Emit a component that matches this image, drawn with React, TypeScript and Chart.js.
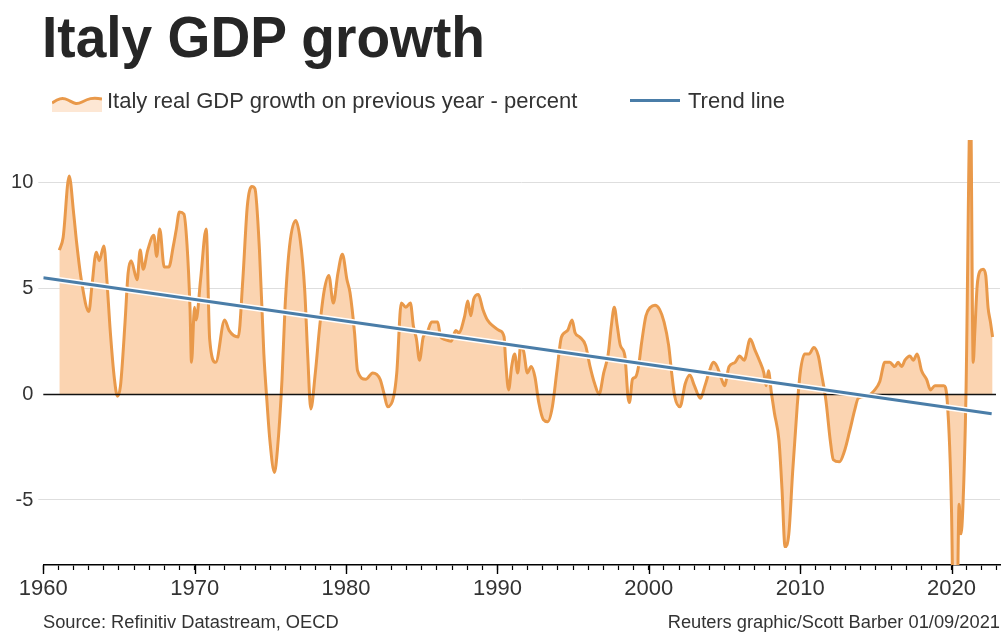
import React, { useEffect, useRef } from "react";
import { Chart, registerables } from "chart.js";

Chart.register(...registerables);

// ---- Data ----
const growthYears = [
  1961.06, 1961.31, 1961.71, 1962.01, 1962.21, 1962.51, 1963.01, 1963.21, 1963.5, 1963.7,
  1964.0, 1964.2, 1964.4, 1964.7, 1964.9, 1965.1, 1965.4, 1965.6, 1965.8, 1966.2,
  1966.4, 1966.6, 1966.9, 1967.3, 1967.49, 1967.69, 1967.99, 1968.29, 1968.59, 1968.79,
  1968.99, 1969.29, 1969.49, 1969.69, 1969.79, 1969.99, 1970.09, 1970.39, 1970.76, 1970.99,
  1971.39, 1971.98, 1972.28, 1972.88, 1973.18, 1973.48, 1973.78, 1973.98, 1974.28, 1974.57,
  1974.77, 1974.97, 1975.27, 1975.47, 1975.77, 1975.97, 1976.27, 1976.67, 1976.97, 1977.27,
  1977.47, 1977.67, 1977.97, 1978.26, 1978.56, 1978.86, 1979.16, 1979.46, 1979.76, 1980.06,
  1980.26, 1980.56, 1980.76, 1981.3, 1981.76, 1982.25, 1982.5, 1982.75, 1983.15, 1983.35,
  1983.65, 1983.95, 1984.25, 1984.45, 1984.65, 1984.85, 1985.1, 1985.35, 1985.65, 1986.05,
  1986.25, 1986.45, 1986.95, 1987.25, 1987.45, 1987.84, 1988.04, 1988.24, 1988.44, 1988.74,
  1989.04, 1989.34, 1989.74, 1990.14, 1990.44, 1990.54, 1990.74, 1990.94, 1991.14, 1991.34,
  1991.54, 1991.74, 1991.98, 1992.23, 1992.48, 1992.73, 1993.03, 1993.33, 1993.63, 1993.93,
  1994.23, 1994.63, 1994.93, 1995.13, 1995.43, 1995.82, 1996.12, 1996.42, 1996.72, 1997.02,
  1997.32, 1997.52, 1997.72, 1997.92, 1998.12, 1998.42, 1998.62, 1998.72, 1998.92, 1999.12,
  1999.32, 1999.52, 1999.81, 2000.11, 2000.41, 2000.71, 2001.01, 2001.31, 2001.51, 2001.71,
  2002.06, 2002.41, 2002.71, 2003.01, 2003.41, 2003.71, 2004.01, 2004.26, 2004.51, 2004.81,
  2005.0, 2005.3, 2005.7, 2006.0, 2006.3, 2006.7, 2007.0, 2007.3, 2007.6, 2007.75,
  2007.9, 2008.1, 2008.3, 2008.6, 2008.8, 2009.0, 2009.25, 2009.5, 2009.8, 2010.0,
  2010.3, 2010.6, 2010.9, 2011.2, 2011.4, 2011.7, 2011.99, 2012.19, 2012.59, 2012.92,
  2013.25, 2013.62, 2013.83, 2014.39, 2014.93, 2015.26, 2015.59, 2015.92, 2016.25, 2016.47,
  2016.7, 2016.92, 2017.25, 2017.47, 2017.73, 2018.02, 2018.35, 2018.61, 2018.9, 2019.23,
  2019.49, 2019.71, 2020.0, 2020.25, 2020.5, 2020.62, 2020.75, 2020.95, 2021.25, 2021.43,
  2021.54, 2021.69, 2021.87, 2022.09, 2022.26, 2022.41, 2022.57, 2022.71,
];

const growthValues = [
  6.8, 7.4, 10.3, 8.5, 7.1, 5.4, 3.9, 5.1, 6.7, 6.3,
  7.0, 5.4, 3.2, 0.7, -0.1, 0.4, 3.4, 5.7, 6.3, 5.4,
  6.8, 5.9, 6.8, 7.5, 6.5, 7.8, 6.0, 6.0, 7.0, 7.8,
  8.6, 8.5, 7.1, 4.1, 1.5, 4.1, 3.5, 5.4, 7.8, 2.6,
  1.5, 3.5, 3.0, 2.7, 5.4, 8.9, 9.8, 9.7, 6.8, 1.9,
  -0.3, -2.2, -3.7, -2.6, 0.7, 4.1, 7.0, 8.2, 7.3, 4.9,
  1.8, -0.7, 1.0, 3.2, 4.9, 5.6, 4.3, 5.7, 6.6, 5.4,
  4.8, 2.9, 1.1, 0.7, 1.0, 0.7, 0.05, -0.6, -0.1, 1.0,
  4.3, 4.1, 4.3, 3.2, 2.6, 1.6, 2.7, 2.9, 3.4, 3.4,
  2.7, 2.6, 2.5, 3.0, 2.9, 3.7, 4.4, 3.7, 4.5, 4.7,
  4.0, 3.5, 3.2, 3.0, 2.7, 1.6, 0.2, 1.3, 1.9, 1.0,
  2.3, 2.0, 1.0, 1.3, 0.8, -0.4, -1.2, -1.3, -0.6, 1.1,
  2.7, 3.0, 3.5, 2.9, 2.7, 2.3, 1.3, 0.5, 0.0, 1.0,
  1.9, 3.2, 4.1, 3.2, 2.3, 1.8, -0.1, -0.4, 0.7, 0.8,
  1.3, 2.4, 3.7, 4.1, 4.2, 4.0, 3.4, 2.3, 1.0, -0.1,
  -0.6, 0.5, 0.9, 0.4, -0.2, 0.4, 1.1, 1.5, 1.3, 0.7,
  0.4, 1.3, 1.5, 1.8, 1.6, 2.6, 2.1, 1.6, 1.0, 0.4,
  1.1, 0.05, -0.9, -2.2, -4.5, -7.2, -6.6, -3.7, -0.6, 1.0,
  1.9, 1.9, 2.2, 1.8, 1.0, -0.3, -2.2, -3.1, -3.2, -2.7,
  -1.8, -0.7, -0.2, -0.1, 0.2, 0.6, 1.5, 1.5, 1.3, 1.5,
  1.3, 1.6, 1.8, 1.6, 1.9, 1.1, 0.7, 0.2, 0.4, 0.4,
  0.4, -0.3, -5.6, -18.0, -5.2, -6.6, -5.3, -0.1, 14.0, 1.5,
  3.0, 5.1, 5.8, 5.9, 5.6, 4.1, 3.4, 2.7,
];

const trendYears = [1960, 2022.65];
const trendValues = [5.5, -0.93];

const yTickValues = [-5, 0, 5, 10];
const decadeLabels = ["1960", "1970", "1980", "1990", "2000", "2010", "2020"];
const firstYear = 1960;
const lastYear = 2023;

const TITLE = "Italy GDP growth";
const SERIES_LABEL = "Italy real GDP growth on previous year - percent";
const TREND_LABEL = "Trend line";
const SOURCE_TEXT = "Source: Refinitiv Datastream, OECD";
const CREDIT_TEXT = "Reuters graphic/Scott Barber 01/09/2021";

// ---- Styles ----
const ORANGE = "#E9994A";
const ORANGE_FILL = "#FBD4B1";
const BLUE = "#4A7DA8";
const TEXT = "#333333";
const SANS = "'Liberation Sans', Arial, Helvetica, sans-serif";

const axisExtras = {
  id: "axisExtras",
  afterDatasetDraw(chart: any, args: any) {
    if (args.index !== 0) return;
    const { ctx, chartArea, scales } = chart;
    const y0 = Math.round(scales.y.getPixelForValue(0)) + 0.5;
    ctx.save();
    ctx.strokeStyle = "#111111";
    ctx.lineWidth = 1.3;
    ctx.beginPath();
    ctx.moveTo(chartArea.left, y0);
    ctx.lineTo(chartArea.right - 4, y0);
    ctx.stroke();
    ctx.restore();
  },
  afterDraw(chart: any) {
    const { ctx, chartArea, scales } = chart;
    ctx.save();
    ctx.strokeStyle = "#000000";
    ctx.lineWidth = 1.4;
    decadeLabels.forEach((lab) => {
      const x = Math.round(scales.x.getPixelForValue(Number(lab))) + 0.5;
      ctx.beginPath();
      ctx.moveTo(x, chartArea.bottom);
      ctx.lineTo(x, chartArea.bottom + 9);
      ctx.stroke();
    });
    ctx.restore();
  },
};

function GdpChart() {
  const ref = useRef<HTMLCanvasElement | null>(null);

  useEffect(() => {
    if (!ref.current) return;
    const growthPoints = growthYears.map((x, i) => ({ x, y: growthValues[i] }));
    const trendPoints = trendYears.map((x, i) => ({ x, y: trendValues[i] }));

    const chart = new Chart(ref.current, {
      type: "line",
      data: {
        datasets: [
          {
            label: SERIES_LABEL,
            data: growthPoints,
            borderColor: ORANGE,
            backgroundColor: ORANGE_FILL,
            borderWidth: 3,
            fill: "origin",
            pointRadius: 0,
            cubicInterpolationMode: "monotone",
            order: 3,
          },
          {
            label: "halo",
            data: trendPoints,
            borderColor: "#ffffff",
            borderWidth: 6,
            fill: false,
            pointRadius: 0,
            order: 2,
          },
          {
            label: TREND_LABEL,
            data: trendPoints,
            borderColor: BLUE,
            borderWidth: 3,
            fill: false,
            pointRadius: 0,
            order: 1,
          },
        ],
      } as any,
      options: {
        responsive: false,
        animation: false,
        events: [],
        layout: { padding: { top: 140, right: 7, left: 0, bottom: 0 } },
        plugins: {
          legend: { display: false },
          tooltip: { enabled: false },
          title: { display: false },
        },
        scales: {
          x: {
            type: "linear",
            min: firstYear,
            max: 2023.2,
            afterBuildTicks: (scale: any) => {
              const t = [];
              for (let v = firstYear; v <= lastYear; v++) t.push({ value: v });
              scale.ticks = t;
            },
            afterFit: (scale: any) => {
              scale.height = 71;
            },
            ticks: {
              autoSkip: false,
              maxRotation: 0,
              minRotation: 0,
              padding: 6,
              color: TEXT,
              font: { family: SANS, size: 22 },
              callback: (v: any) => {
                const s = String(v);
                return decadeLabels.includes(s) ? s : "";
              },
            },
            grid: {
              drawOnChartArea: false,
              drawTicks: true,
              tickLength: 5,
              tickColor: "#000000",
              tickWidth: 1.2,
            },
            border: { display: true, color: "#000000", width: 1.6 },
          },
          y: {
            min: -8.07,
            max: 12,
            afterBuildTicks: (scale: any) => {
              scale.ticks = yTickValues.map((value) => ({ value }));
            },
            afterFit: (scale: any) => {
              scale.width = 43.3;
            },
            ticks: {
              padding: 5,
              color: TEXT,
              font: { family: SANS, size: 20 },
              callback: (v: any) => String(v),
            },
            grid: {
              color: (ctx: any) =>
                ctx.tick && ctx.tick.value === 0 ? "rgba(0,0,0,0)" : "#dedede",
              lineWidth: 1,
              tickLength: 5,
              drawTicks: true,
            },
            border: { display: false },
          },
        },
      } as any,
      plugins: [axisExtras],
    });
    return () => chart.destroy();
  }, []);

  return (
    <canvas
      ref={ref}
      width={1007}
      height={636}
      style={{ position: "absolute", left: 0, top: 0, width: 1007, height: 636, display: "block" }}
    />
  );
}

export default function App() {
  const textBase: React.CSSProperties = {
    position: "absolute",
    whiteSpace: "nowrap",
    color: TEXT,
    fontFamily: SANS,
  };
  return (
    <div
      style={{
        position: "fixed",
        left: 0,
        top: 0,
        width: 1007,
        height: 636,
        background: "#ffffff",
        overflow: "hidden",
      }}
    >
      <GdpChart />
      <div
        style={{
          ...textBase,
          left: 42,
          top: 8,
          fontSize: 58,
          lineHeight: "58px",
          fontWeight: "bold",
          color: "#262626",
          transform: "scaleX(0.95)",
          transformOrigin: "left top",
        }}
      >
        {TITLE}
      </div>
      <svg
        width={50}
        height={22}
        style={{ position: "absolute", left: 52, top: 90 }}
        viewBox="0 0 50 22"
      >
        <path
          d="M0,13 C6,9 10,7 16,10 S24,15 30,12 S40,7 50,9 L50,22 L0,22 Z"
          fill="#FDE7D4"
          stroke="none"
        />
        <path
          d="M0,13 C6,9 10,7 16,10 S24,15 30,12 S40,7 50,9"
          fill="none"
          stroke={ORANGE}
          strokeWidth={3}
        />
      </svg>
      <div style={{ ...textBase, left: 107, top: 88, fontSize: 22, lineHeight: "26px" }}>
        {SERIES_LABEL}
      </div>
      <div
        style={{
          position: "absolute",
          left: 630,
          top: 99,
          width: 50,
          height: 3,
          background: BLUE,
        }}
      />
      <div style={{ ...textBase, left: 688, top: 88, fontSize: 22, lineHeight: "26px" }}>
        {TREND_LABEL}
      </div>
      <div style={{ ...textBase, left: 43, top: 611, fontSize: 18.3, lineHeight: "22px" }}>
        {SOURCE_TEXT}
      </div>
      <div
        style={{
          ...textBase,
          right: 7,
          top: 611,
          fontSize: 18.3,
          lineHeight: "22px",
          textAlign: "right",
        }}
      >
        {CREDIT_TEXT}
      </div>
    </div>
  );
}
